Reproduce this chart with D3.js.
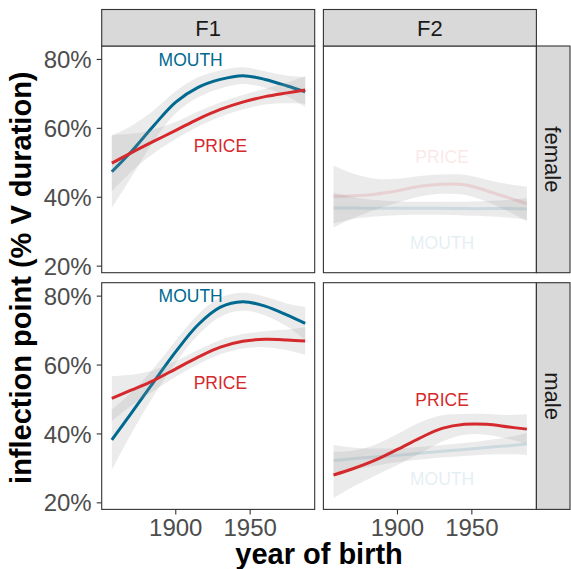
<!DOCTYPE html>
<html>
<head>
<meta charset="utf-8">
<script src="https://cdn.jsdelivr.net/npm/d3@7"></script>
<style>
  body { margin: 0; background: #fff; }
  text { font-family: "Liberation Sans", Arial, sans-serif; }
</style>
</head>
<body>
<div id="chart"></div>
<script>
// facet grid: columns = formant, rows = sex
const formants = ["F1", "F2"];
const sexes = ["female", "male"];
const years = [1857, 1870, 1885, 1900, 1915, 1930, 1945, 1960, 1975, 1987];
const yTicks = [20, 40, 60, 80];
const xTicks = [1900, 1950];

// smoothed fits (% of V duration) and half width of the confidence band
const f1FemaleMouth = [47.4, 53.2, 60.7, 67.6, 71.9, 74.2, 75.3, 74.2, 72.3, 70.6];
const f1FemaleMouthSe = [10.5, 7.5, 4.5, 3.2, 2.9, 2.6, 2.4, 2.4, 3.0, 4.4];
const f1FemalePrice = [49.9, 52.9, 56.2, 59.4, 62.7, 65.5, 67.6, 69.2, 70.3, 71.1];
const f1FemalePriceSe = [8.2, 5.5, 3.5, 2.5, 2.2, 2.1, 2.1, 2.3, 3.0, 4.0];

const f1MaleMouth = [38.3, 46.0, 55.0, 63.9, 71.7, 76.8, 78.4, 77.1, 74.5, 72.1];
const f1MaleMouthSe = [8.7, 6.0, 4.0, 3.2, 3.0, 2.8, 2.6, 2.7, 3.3, 4.8];
const f1MalePrice = [50.3, 52.7, 55.5, 58.9, 62.3, 65.2, 66.9, 67.5, 67.3, 67.0];
const f1MalePriceSe = [6.5, 4.5, 3.0, 2.3, 2.1, 2.1, 2.1, 2.3, 3.0, 4.0];

const f2FemaleMouth = [36.9, 36.9, 36.8, 36.8, 36.8, 36.8, 36.7, 36.7, 36.7, 36.6];
const f2FemaleMouthSe = [4.5, 3.2, 2.4, 2.0, 1.9, 1.9, 2.0, 2.2, 2.6, 3.2];
const f2FemalePrice = [40.2, 40.4, 40.9, 41.9, 43.2, 43.8, 43.6, 41.9, 39.8, 38.1];
const f2FemalePriceSe = [9.0, 6.5, 4.5, 3.5, 3.0, 2.8, 2.9, 3.2, 4.0, 5.0];

const f2MaleMouth = [32.3, 32.8, 33.3, 33.8, 34.4, 35.0, 35.5, 36.1, 36.6, 37.1];
const f2MaleMouthSe = [4.5, 3.3, 2.5, 2.0, 1.8, 1.8, 1.9, 2.1, 2.5, 3.2];
const f2MalePrice = [28.1, 29.9, 32.4, 35.5, 38.8, 41.6, 42.8, 42.8, 42.0, 41.4];
const f2MalePriceSe = [6.7, 5.2, 4.5, 4.5, 4.5, 3.8, 3.0, 3.0, 3.5, 4.3];

// text labels inside each panel: [x, y]
const mouthLabelPos = { F1female: [1910, 80], F1male: [1910, 80], F2female: [1930, 26.8], F2male: [1930, 27] };
const priceLabelPos = { F1female: [1930, 55], F1male: [1930, 55], F2female: [1930, 51.8], F2male: [1930, 50] };
// which vowel is greyed out in each panel
const faded = { F1female: [], F1male: [], F2female: ["MOUTH", "PRICE"], F2male: ["MOUTH"] };

const vowelColor = { MOUTH: "#00698f", PRICE: "#d42a2d" };

const panels = [
    { f: "F1", s: "female", MOUTH: [f1FemaleMouth, f1FemaleMouthSe], PRICE: [f1FemalePrice, f1FemalePriceSe] },
    { f: "F2", s: "female", MOUTH: [f2FemaleMouth, f2FemaleMouthSe], PRICE: [f2FemalePrice, f2FemalePriceSe] },
    { f: "F1", s: "male", MOUTH: [f1MaleMouth, f1MaleMouthSe], PRICE: [f1MalePrice, f1MalePriceSe] },
    { f: "F2", s: "male", MOUTH: [f2MaleMouth, f2MaleMouthSe], PRICE: [f2MalePrice, f2MalePriceSe] }
];

const width = 571, height = 569;
const colX = { F1: 101.7, F2: 323.4 };
const rowY = { female: 46, male: 282.7 };
const pw = 213, ph = 226.7;

const svg = d3.select("#chart").append("svg")
    .attr("width", width)
    .attr("height", height);

const x = d3.scaleLinear().domain([1850.2, 1993.4]).range([0, pw]);
const y = d3.scaleLinear().domain([18.1, 83.9]).range([ph, 0]);
const smooth = d3.curveCatmullRom.alpha(0.5);

const defs = svg.append("defs");
defs.append("clipPath").attr("id", "pclip")
    .append("rect").attr("width", pw).attr("height", ph);

panels.forEach(function (p) {
    const key = p.f + p.s;
    const g = svg.append("g").attr("transform", `translate(${colX[p.f]},${rowY[p.s]})`);
    const inner = g.append("g").attr("clip-path", "url(#pclip)");

    ["MOUTH", "PRICE"].forEach(function (v) {
        const fit = p[v][0], se = p[v][1];
        const pts = years.map((yr, i) => ({ yr: yr, fit: fit[i], lo: fit[i] - se[i], hi: fit[i] + se[i] }));
        const isFaded = faded[key].includes(v);

        inner.append("path")
            .datum(pts)
            .attr("d", d3.area().curve(smooth)
                .x(d => x(d.yr)).y0(d => y(d.lo)).y1(d => y(d.hi)))
            .attr("fill", "#999999")
            .attr("fill-opacity", 0.2);

        inner.append("path")
            .datum(pts)
            .attr("d", d3.line().curve(smooth).x(d => x(d.yr)).y(d => y(d.fit)))
            .attr("fill", "none")
            .attr("stroke", vowelColor[v])
            .attr("stroke-width", 3)
            .attr("opacity", isFaded ? 0.13 : 1);
    });

    [["MOUTH", mouthLabelPos], ["PRICE", priceLabelPos]].forEach(function (l) {
        const pos = l[1][key];
        g.append("text")
            .attr("x", x(pos[0]))
            .attr("y", y(pos[1]))
            .attr("dy", "0.36em")
            .attr("text-anchor", "middle")
            .attr("font-size", 17.5)
            .attr("fill", vowelColor[l[0]])
            .attr("opacity", faded[key].includes(l[0]) ? 0.1 : 1)
            .text(l[0]);
    });

    g.append("rect")
        .attr("width", pw).attr("height", ph)
        .attr("fill", "none")
        .attr("stroke", "#333333")
        .attr("stroke-width", 1.1);

    // y axis on left column only
    if (p.f === "F1") {
        yTicks.forEach(function (t) {
            g.append("line")
                .attr("x1", -5).attr("x2", 0)
                .attr("y1", y(t)).attr("y2", y(t))
                .attr("stroke", "#333333").attr("stroke-width", 1.1);
            g.append("text")
                .attr("x", -10)
                .attr("y", y(t))
                .attr("dy", "0.36em")
                .attr("text-anchor", "end")
                .attr("font-size", 24)
                .attr("fill", "#4d4d4d")
                .text(t + "%");
        });
    }
    // x axis on bottom row only
    if (p.s === "male") {
        xTicks.forEach(function (t) {
            g.append("line")
                .attr("x1", x(t)).attr("x2", x(t))
                .attr("y1", ph).attr("y2", ph + 5)
                .attr("stroke", "#333333").attr("stroke-width", 1.1);
            g.append("text")
                .attr("x", x(t))
                .attr("y", ph + 26.5)
                .attr("text-anchor", "middle")
                .attr("font-size", 24)
                .attr("fill", "#4d4d4d")
                .text(t);
        });
    }
});

// column strips
formants.forEach(function (f) {
    svg.append("rect")
        .attr("x", colX[f]).attr("y", 9.5)
        .attr("width", pw).attr("height", rowY.female - 9.5)
        .attr("fill", "#d9d9d9")
        .attr("stroke", "#333333").attr("stroke-width", 1.1);
    svg.append("text")
        .attr("x", colX[f] + pw / 2)
        .attr("y", (9.5 + rowY.female) / 2)
        .attr("dy", "0.36em")
        .attr("text-anchor", "middle")
        .attr("font-size", 22)
        .attr("fill", "#1a1a1a")
        .text(f);
});

// row strips
sexes.forEach(function (s) {
    const sx = colX.F2 + pw;
    svg.append("rect")
        .attr("x", sx).attr("y", rowY[s])
        .attr("width", 570 - sx).attr("height", ph)
        .attr("fill", "#d9d9d9")
        .attr("stroke", "#333333").attr("stroke-width", 1.1);
    svg.append("text")
        .attr("transform", `translate(${(sx + 570) / 2},${rowY[s] + ph / 2}) rotate(90)`)
        .attr("dy", "0.36em")
        .attr("text-anchor", "middle")
        .attr("font-size", 22)
        .attr("fill", "#1a1a1a")
        .text(s);
});

// axis titles
svg.append("text")
    .attr("x", (colX.F1 + colX.F2 + pw) / 2)
    .attr("y", 563.5)
    .attr("text-anchor", "middle")
    .attr("font-size", 29)
    .attr("font-weight", "bold")
    .attr("fill", "#000")
    .text("year of birth");

svg.append("text")
    .attr("transform", `translate(30.5,${(rowY.female + rowY.male + ph) / 2}) rotate(-90)`)
    .attr("text-anchor", "middle")
    .attr("font-size", 29)
    .attr("font-weight", "bold")
    .attr("fill", "#000")
    .text("inflection point (% V duration)");
</script>
</body>
</html>
